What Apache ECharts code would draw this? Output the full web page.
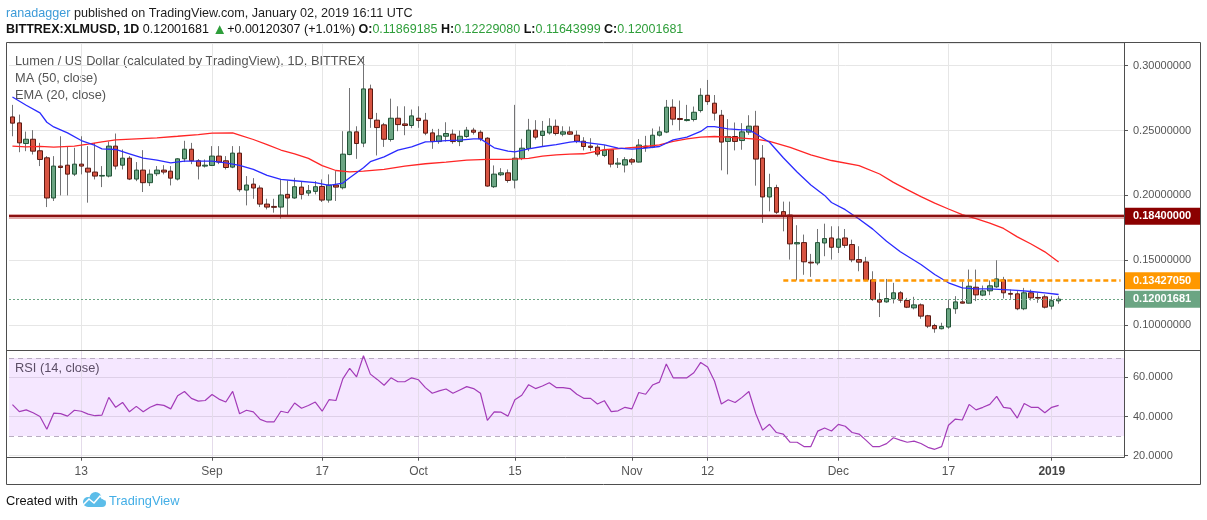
<!DOCTYPE html>
<html>
<head>
<meta charset="utf-8">
<title>Lumen / US Dollar, 1D, BITTREX</title>
<script src="https://cdn.jsdelivr.net/npm/echarts@6/dist/echarts.min.js"></script>
<style>
  html, body { margin: 0; padding: 0; background: #fff; }
  #chart-container { width: 1207px; height: 520px; }
</style>
</head>
<body>
<div id="chart-container"></div>
<script>
var TEXT_FONT = '"Liberation Sans", Arial, sans-serif';
var AXIS_FONT = '"Liberation Sans", Arial, sans-serif';

// daily candles BITTREX:XLMUSD, 2018-08-03 .. 2019-01-02
var opens = [
  0.2605, 0.2559, 0.2400, 0.2433, 0.2344, 0.2290, 0.1980, 0.2226, 0.2233, 0.2164,
  0.2241, 0.2210, 0.2180, 0.2149, 0.2149, 0.2380, 0.2233, 0.2287, 0.2126, 0.2195,
  0.2098, 0.2167, 0.2195, 0.2187, 0.2126, 0.2282, 0.2356, 0.2267, 0.2226, 0.2231,
  0.2303, 0.2267, 0.2218, 0.2326, 0.2041, 0.2087, 0.2057, 0.1933, 0.1915, 0.1910,
  0.2008, 0.1980, 0.2064, 0.2018, 0.2031, 0.2069, 0.1964, 0.2080, 0.2059, 0.2315,
  0.2490, 0.2403, 0.2821, 0.2580, 0.2544, 0.2431, 0.2595, 0.2551, 0.2539, 0.2595,
  0.2580, 0.2482, 0.2415, 0.2456, 0.2472, 0.2415, 0.2454, 0.2503, 0.2487, 0.2441,
  0.2067, 0.2159, 0.2174, 0.2118, 0.2285, 0.2362, 0.2503, 0.2462, 0.2482, 0.2533,
  0.2472, 0.2490, 0.2464, 0.2418, 0.2380, 0.2372, 0.2308, 0.2352, 0.2241, 0.2234,
  0.2275, 0.2257, 0.2380, 0.2372, 0.2464, 0.2488, 0.2680, 0.2593, 0.2577, 0.2585,
  0.2654, 0.2772, 0.2711, 0.2618, 0.2416, 0.2454, 0.2423, 0.2488, 0.2534, 0.2288,
  0.1988, 0.2060, 0.1875, 0.1849, 0.1626, 0.1636, 0.1485, 0.1479, 0.1633, 0.1672,
  0.1600, 0.1672, 0.1621, 0.1505, 0.1487, 0.1349, 0.1197, 0.1179, 0.1203, 0.1249,
  0.1190, 0.1133, 0.1156, 0.1072, 0.0997, 0.0972, 0.0985, 0.1126, 0.1179, 0.1169,
  0.1292, 0.1231, 0.1264, 0.1295, 0.1349, 0.1244, 0.1241, 0.1126, 0.1249, 0.1213,
  0.1218, 0.1146, 0.11869185
];
var highs = [
  0.2698, 0.2623, 0.2492, 0.2503, 0.2405, 0.2303, 0.2303, 0.2456, 0.2380, 0.2367,
  0.2456, 0.2380, 0.2405, 0.2226, 0.2415, 0.2477, 0.2354, 0.2303, 0.2257, 0.2349,
  0.2200, 0.2226, 0.2233, 0.2226, 0.2287, 0.2421, 0.2405, 0.2280, 0.2277, 0.2380,
  0.2380, 0.2303, 0.2380, 0.2380, 0.2149, 0.2133, 0.2077, 0.1974, 0.1974, 0.2123,
  0.2115, 0.2136, 0.2110, 0.2080, 0.2110, 0.2123, 0.2162, 0.2187, 0.2495, 0.2828,
  0.2533, 0.3072, 0.2854, 0.2636, 0.2559, 0.2746, 0.2687, 0.2687, 0.2662, 0.2687,
  0.2636, 0.2513, 0.2513, 0.2564, 0.2508, 0.2500, 0.2528, 0.2521, 0.2503, 0.2449,
  0.2231, 0.2210, 0.2200, 0.2698, 0.2436, 0.2590, 0.2580, 0.2574, 0.2595, 0.2585,
  0.2533, 0.2531, 0.2500, 0.2449, 0.2441, 0.2390, 0.2388, 0.2357, 0.2288, 0.2295,
  0.2288, 0.2434, 0.2459, 0.2516, 0.2531, 0.2736, 0.2741, 0.2731, 0.2698, 0.2685,
  0.2826, 0.2890, 0.2774, 0.2659, 0.2588, 0.2562, 0.2557, 0.2618, 0.2652, 0.2388,
  0.2167, 0.2082, 0.1952, 0.1952, 0.1770, 0.1698, 0.1549, 0.1741, 0.1782, 0.1762,
  0.1762, 0.1741, 0.1659, 0.1608, 0.1526, 0.1415, 0.1249, 0.1356, 0.1326, 0.1262,
  0.1210, 0.1218, 0.1167, 0.1079, 0.1010, 0.1018, 0.1197, 0.1223, 0.1338, 0.1428,
  0.1428, 0.1305, 0.1344, 0.1500, 0.1372, 0.1274, 0.1262, 0.1287, 0.1274, 0.1249,
  0.1236, 0.1223, 0.12229080
];
var lows = [
  0.2456, 0.2333, 0.2341, 0.2315, 0.2226, 0.1910, 0.1957, 0.2000, 0.2000, 0.2149,
  0.2162, 0.1944, 0.2123, 0.2064, 0.2139, 0.2200, 0.2200, 0.2118, 0.2110, 0.2026,
  0.2072, 0.2149, 0.2162, 0.2077, 0.2115, 0.2257, 0.2241, 0.2123, 0.2215, 0.2226,
  0.2241, 0.2200, 0.2210, 0.2028, 0.1923, 0.1974, 0.1910, 0.1892, 0.1867, 0.1821,
  0.1841, 0.1974, 0.1969, 0.1995, 0.2008, 0.1949, 0.1944, 0.1957, 0.2046, 0.2310,
  0.2282, 0.2372, 0.2521, 0.2308, 0.2374, 0.2415, 0.2495, 0.2464, 0.2518, 0.2521,
  0.2464, 0.2359, 0.2398, 0.2415, 0.2398, 0.2380, 0.2444, 0.2469, 0.2418, 0.2067,
  0.2057, 0.2149, 0.2098, 0.2054, 0.2272, 0.2341, 0.2431, 0.2380, 0.2469, 0.2462,
  0.2456, 0.2467, 0.2403, 0.2347, 0.2344, 0.2300, 0.2295, 0.2216, 0.2211, 0.2177,
  0.2236, 0.2254, 0.2336, 0.2364, 0.2454, 0.2480, 0.2541, 0.2500, 0.2570, 0.2570,
  0.2639, 0.2698, 0.2577, 0.2193, 0.2162, 0.2347, 0.2352, 0.2467, 0.2075, 0.1788,
  0.1877, 0.1857, 0.1723, 0.1505, 0.1345, 0.1388, 0.1372, 0.1462, 0.1531, 0.1505,
  0.1556, 0.1595, 0.1485, 0.1415, 0.1338, 0.1187, 0.1062, 0.1172, 0.1167, 0.1172,
  0.1131, 0.1121, 0.1049, 0.0977, 0.0941, 0.0967, 0.0972, 0.1087, 0.1167, 0.1167,
  0.1185, 0.1223, 0.1231, 0.1287, 0.1205, 0.1203, 0.1115, 0.1115, 0.1190, 0.1172,
  0.1128, 0.1121, 0.11643999
];
var closes = [
  0.2557, 0.2405, 0.2433, 0.2341, 0.2277, 0.1980, 0.2226, 0.2215, 0.2164, 0.2241,
  0.2226, 0.2180, 0.2149, 0.2154, 0.2380, 0.2226, 0.2287, 0.2126, 0.2195, 0.2098,
  0.2164, 0.2195, 0.2180, 0.2133, 0.2282, 0.2356, 0.2267, 0.2226, 0.2233, 0.2303,
  0.2257, 0.2215, 0.2326, 0.2044, 0.2080, 0.2057, 0.1933, 0.1910, 0.1908, 0.2003,
  0.1980, 0.2067, 0.2008, 0.2036, 0.2067, 0.1964, 0.2080, 0.2064, 0.2318, 0.2490,
  0.2400, 0.2821, 0.2592, 0.2523, 0.2433, 0.2595, 0.2546, 0.2539, 0.2613, 0.2577,
  0.2480, 0.2415, 0.2459, 0.2477, 0.2415, 0.2456, 0.2503, 0.2487, 0.2436, 0.2072,
  0.2164, 0.2174, 0.2115, 0.2287, 0.2364, 0.2503, 0.2449, 0.2495, 0.2533, 0.2477,
  0.2490, 0.2472, 0.2418, 0.2377, 0.2370, 0.2318, 0.2349, 0.2241, 0.2249, 0.2275,
  0.2257, 0.2388, 0.2370, 0.2464, 0.2490, 0.2680, 0.2588, 0.2585, 0.2585, 0.2641,
  0.2772, 0.2723, 0.2634, 0.2411, 0.2454, 0.2416, 0.2490, 0.2534, 0.2280, 0.1988,
  0.2060, 0.1870, 0.1839, 0.1626, 0.1636, 0.1488, 0.1479, 0.1636, 0.1667, 0.1600,
  0.1664, 0.1615, 0.1503, 0.1485, 0.1349, 0.1197, 0.1177, 0.1205, 0.1249, 0.1192,
  0.1138, 0.1156, 0.1069, 0.0992, 0.0972, 0.0990, 0.1126, 0.1179, 0.1169, 0.1300,
  0.1233, 0.1264, 0.1303, 0.1356, 0.1249, 0.1238, 0.1126, 0.1249, 0.1210, 0.1208,
  0.1138, 0.11881374, 0.12001681
];

// RSI (14, close), one value per candle
var rsi14 = [
  46.1, 42.5, 43.4, 41.9, 40.0, 33.5, 41.7, 41.5, 40.2, 43.2,
  42.7, 41.2, 40.4, 40.7, 49.8, 44.7, 47.2, 42.4, 45.2, 42.4,
  44.7, 46.2, 45.7, 43.9, 50.6, 52.8, 49.3, 47.9, 48.2, 51.3,
  48.9, 47.4, 52.9, 41.4, 43.2, 42.4, 38.5, 37.2, 37.2, 42.7,
  41.9, 46.9, 44.2, 45.6, 47.4, 42.7, 48.6, 48.2, 59.3, 64.7,
  60.3, 71.1, 61.7, 59.0, 56.0, 59.8, 57.8, 57.8, 59.8, 58.8,
  54.8, 51.9, 53.1, 54.1, 51.9, 53.6, 55.3, 54.3, 51.9, 38.0,
  42.4, 42.2, 40.2, 48.6, 50.9, 56.3, 54.3, 55.6, 57.3, 54.8,
  54.8, 54.3, 51.4, 49.3, 49.3, 46.4, 48.1, 42.5, 42.9, 44.7,
  43.9, 52.3, 51.4, 56.1, 57.6, 66.9, 59.8, 59.8, 59.8, 62.4,
  67.7, 65.4, 58.2, 46.4, 48.6, 47.2, 49.8, 52.8, 41.4, 33.0,
  36.0, 31.8, 31.0, 26.8, 26.8, 24.6, 24.6, 32.5, 34.1, 32.6,
  36.0, 35.0, 31.8, 31.0, 27.9, 24.6, 24.6, 26.1, 29.1, 27.9,
  26.8, 27.4, 26.2, 24.2, 23.2, 24.6, 35.5, 38.7, 38.2, 46.2,
  43.4, 44.7, 46.2, 50.3, 44.7, 44.2, 39.2, 46.7, 44.7, 44.7,
  41.9, 44.7, 45.7
];

// moving averages: [day index from 2018-08-03, value]
var ma50 = [
  [0, 0.2380], [2, 0.2374], [4, 0.2378], [6, 0.2372], [9, 0.2380], [11, 0.2395],
  [13, 0.2413], [15, 0.2428], [18, 0.2436], [21, 0.2444], [24, 0.2456], [27, 0.2469],
  [29, 0.2480], [32, 0.2482], [33, 0.2465], [35, 0.2431], [37, 0.2392], [39, 0.2350],
  [41, 0.2320], [43, 0.2285], [45, 0.2230], [47, 0.2192], [49, 0.2182], [51, 0.2187],
  [54, 0.2200], [57, 0.2226], [60, 0.2244], [63, 0.2257], [66, 0.2272], [69, 0.2277],
  [72, 0.2277], [75, 0.2285], [77, 0.2303], [79, 0.2313], [81, 0.2318], [83, 0.2321],
  [86, 0.2352], [89, 0.2364], [92, 0.2377], [94, 0.2390], [96, 0.2416], [98, 0.2436],
  [100, 0.2449], [102, 0.2454], [104, 0.2449], [106, 0.2441], [108, 0.2434], [110, 0.2416],
  [113, 0.2370], [116, 0.2313], [119, 0.2269], [123, 0.2230], [126, 0.2165], [128, 0.2100],
  [130, 0.2045], [132, 0.1990], [134, 0.1940], [136, 0.1895], [138, 0.1852], [140, 0.1820],
  [142, 0.1787], [144, 0.1745], [146, 0.1680], [148, 0.1625], [150, 0.1565], [152, 0.1487]
];
var ema20 = [
  [0, 0.2759], [2, 0.2695], [4, 0.2636], [5, 0.2564], [6, 0.2528], [8, 0.2482],
  [10, 0.2423], [12, 0.2385], [13, 0.2359], [15, 0.2354], [17, 0.2321], [19, 0.2287],
  [21, 0.2272], [23, 0.2251], [25, 0.2264], [27, 0.2264], [29, 0.2264], [31, 0.2251],
  [33, 0.2231], [35, 0.2200], [37, 0.2154], [39, 0.2123], [41, 0.2113], [44, 0.2098],
  [46, 0.2077], [48, 0.2095], [49, 0.2136], [51, 0.2213], [52, 0.2260], [54, 0.2297],
  [56, 0.2349], [58, 0.2374], [60, 0.2413], [61, 0.2415], [63, 0.2423], [65, 0.2426],
  [67, 0.2436], [68, 0.2436], [70, 0.2367], [72, 0.2341], [73, 0.2336], [75, 0.2359],
  [77, 0.2377], [79, 0.2392], [81, 0.2410], [82, 0.2416], [84, 0.2403], [86, 0.2390],
  [88, 0.2364], [90, 0.2357], [92, 0.2364], [94, 0.2377], [96, 0.2428], [98, 0.2449],
  [100, 0.2493], [101, 0.2531], [102, 0.2531], [104, 0.2513], [106, 0.2505], [107, 0.2505],
  [108, 0.2475], [110, 0.2410], [112, 0.2290], [114, 0.2180], [116, 0.2080], [118, 0.2000],
  [119, 0.1945], [121, 0.1890], [123, 0.1818], [125, 0.1740], [127, 0.1646], [129, 0.1565],
  [132, 0.1467], [134, 0.1390], [136, 0.1326], [138, 0.1287], [140, 0.1280], [142, 0.1280],
  [144, 0.1274], [146, 0.1267], [148, 0.1259], [150, 0.1249], [152, 0.1236]
];

var tickDays = ['2018-08-13', '2018-09-01', '2018-09-17', '2018-10-01', '2018-10-15',
                '2018-11-01', '2018-11-12', '2018-12-01', '2018-12-17', '2019-01-01'];
var tickLabels = ['13', 'Sep', '17', 'Oct', '15', 'Nov', '12', 'Dec', '17', '2019'];

var supportLevel = 0.184;
var resistanceLevel = 0.1342705;
var resistanceFrom = '2018-11-23';

// axis runs a few empty days past the last candle
var days = [];
var t0 = Date.UTC(2018, 7, 3);
for (var i = 0; i < 162; i++) {
  days.push(new Date(t0 + i * 86400000).toISOString().slice(0, 10));
}

var last = closes.length - 1;
var lastClose = closes[last];
var change = closes[last] - closes[last - 1];
var changePct = change / closes[last - 1] * 100;

var wickData = opens.map(function (o, i) { return [o, closes[i], lows[i], highs[i]]; });
var bodyData = opens.map(function (o, i) {
  var c = closes[i];
  return [o, c, Math.min(o, c), Math.max(o, c)];
});
var maData = ma50.map(function (p) { return [days[p[0]], p[1]]; });
var emaData = ema20.map(function (p) { return [days[p[0]], p[1]]; });

function isTick(idx, value) { return tickDays.indexOf(value) !== -1; }

function priceTag(bg) {
  return {
    show: true,
    position: 'end',
    distance: 0,
    formatter: function (p) { return Number(p.value).toFixed(8); },
    color: '#fff',
    backgroundColor: bg,
    fontFamily: AXIS_FONT,
    fontSize: 11,
    fontWeight: 'bold',
    padding: [3, 9, 2, 9],
    height: 12,
    lineHeight: 12
  };
}

var dom = document.getElementById('chart-container');
var myChart = echarts.init(dom, null, { renderer: 'canvas' });

var option = {
  animation: false,
  backgroundColor: '#fff',
  grid: [
    { left: 9, right: 83, top: 43, height: 307 },
    { left: 9, right: 83, top: 350.5, height: 107.2 }
  ],
  xAxis: [
    { type: 'category', gridIndex: 0, data: days, show: false },
    {
      type: 'category', gridIndex: 1, data: days,
      axisLine: { show: false },
      axisTick: { show: true, alignWithLabel: true, interval: isTick, length: 3, lineStyle: { color: '#555' } },
      axisLabel: {
        interval: isTick,
        margin: 8,
        color: '#555',
        fontSize: 12,
        fontFamily: AXIS_FONT,
        formatter: function (value) {
          var s = tickLabels[tickDays.indexOf(value)];
          return s === '2019' ? '{b|' + s + '}' : s;
        },
        rich: { b: { fontWeight: 'bold', color: '#444', fontSize: 12, fontFamily: AXIS_FONT } }
      },
      splitLine: { show: false }
    }
  ],
  yAxis: [
    {
      type: 'value', gridIndex: 0, position: 'right',
      min: 0.0808, max: 0.3175, splitNumber: 5,
      axisLine: { show: false },
      axisTick: { show: true, length: 4, lineStyle: { color: '#555' } },
      axisLabel: {
        margin: 9, color: '#555', fontSize: 11, fontFamily: AXIS_FONT,
        showMinLabel: false, showMaxLabel: false,
        formatter: function (v) { return v.toFixed(8); }
      },
      splitLine: { lineStyle: { color: '#e6e6e6' } }
    },
    {
      type: 'value', gridIndex: 1, position: 'right',
      min: 18.9, max: 73.8, splitNumber: 3,
      axisLine: { show: false },
      axisTick: { show: true, length: 4, lineStyle: { color: '#555' } },
      axisLabel: {
        margin: 9, color: '#555', fontSize: 11, fontFamily: AXIS_FONT,
        showMinLabel: false, showMaxLabel: false,
        formatter: function (v) { return v.toFixed(4); }
      },
      splitLine: { lineStyle: { color: '#e6e6e6' } }
    }
  ],
  series: [
    {
      name: 'wicks', type: 'candlestick', xAxisIndex: 0, yAxisIndex: 0,
      data: wickData, barWidth: 1, z: 2, silent: true,
      itemStyle: { color: '#737375', color0: '#737375', borderColor: '#737375', borderColor0: '#737375', borderWidth: 1 },
      markLine: {
        silent: true, symbol: 'none', z: 1, animation: false,
        label: { show: false },
        lineStyle: { color: '#e6e6e6', width: 1, type: 'solid' },
        data: tickDays.map(function (d) { return { xAxis: d }; })
      }
    },
    {
      name: 'XLMUSD', type: 'candlestick', xAxisIndex: 0, yAxisIndex: 0,
      data: bodyData, barWidth: 5, z: 3, silent: true,
      itemStyle: { color: '#6ba583', color0: '#d75442', borderColor: '#225437', borderColor0: '#5b1a13', borderWidth: 1 },
      markLine: {
        silent: true, symbol: 'none', z: 6, animation: false, precision: 8,
        data: [
          { yAxis: supportLevel, lineStyle: { color: 'rgba(178,40,40,0.4)', width: 5, type: 'solid' }, label: { show: false } },
          { yAxis: supportLevel, lineStyle: { color: '#8b1111', width: 2, type: 'solid' }, label: priceTag('#8b0000') },
          [
            { coord: [resistanceFrom, resistanceLevel], lineStyle: { color: '#ff9800', width: 2.5, type: [5, 3] }, label: { show: false } },
            { coord: [days[days.length - 1], resistanceLevel] }
          ],
          { yAxis: resistanceLevel, lineStyle: { color: 'rgba(0,0,0,0)', width: 1 }, label: priceTag('#ff9800') },
          { yAxis: lastClose, lineStyle: { color: '#6ba583', width: 1, type: [2, 2] }, label: priceTag('#6ba583') }
        ]
      }
    },
    {
      name: 'MA (50, close)', type: 'line', xAxisIndex: 0, yAxisIndex: 0,
      data: maData, symbol: 'none', z: 4, silent: true,
      lineStyle: { color: '#ff2626', width: 1.3 }
    },
    {
      name: 'EMA (20, close)', type: 'line', xAxisIndex: 0, yAxisIndex: 0,
      data: emaData, symbol: 'none', z: 4, silent: true,
      lineStyle: { color: '#2b2bff', width: 1.3 }
    },
    {
      name: 'RSI (14, close)', type: 'line', xAxisIndex: 1, yAxisIndex: 1,
      data: rsi14, symbol: 'none', z: 4, silent: true,
      lineStyle: { color: '#a33bb8', width: 1.2 },
      markArea: {
        silent: true, z: 1,
        itemStyle: { color: 'rgba(153,21,255,0.1)' },
        data: [[{ yAxis: 30 }, { yAxis: 70 }]]
      },
      markLine: {
        silent: true, symbol: 'none', z: 2, animation: false,
        label: { show: false },
        data: tickDays.map(function (d) {
          return { xAxis: d, lineStyle: { color: '#e4dbea', width: 1, type: 'solid' } };
        }).concat([
          { yAxis: 70, lineStyle: { color: '#b9adc2', width: 1, type: [5, 4] } },
          { yAxis: 30, lineStyle: { color: '#b9adc2', width: 1, type: [5, 4] } }
        ])
      }
    }
  ],
  graphic: [
    // frame
    { type: 'rect', silent: true, z: 10, shape: { x: 6.5, y: 42.5, width: 1194, height: 442 },
      style: { fill: null, stroke: '#4e4e4e', lineWidth: 1 } },
    { type: 'line', silent: true, z: 10, shape: { x1: 6.5, y1: 350.5, x2: 1200.5, y2: 350.5 },
      style: { stroke: '#4e4e4e', lineWidth: 1 } },
    { type: 'line', silent: true, z: 10, shape: { x1: 6.5, y1: 457.5, x2: 1124.5, y2: 457.5 },
      style: { stroke: '#4e4e4e', lineWidth: 1 } },
    { type: 'line', silent: true, z: 10, shape: { x1: 1124.5, y1: 42.5, x2: 1124.5, y2: 457.5 },
      style: { stroke: '#4e4e4e', lineWidth: 1 } },
    // header
    { type: 'text', silent: true, x: 6, y: 14, style: {
        text: '{a|ranadagger}{b| published on TradingView.com, January 02, 2019 16:11 UTC}',
        verticalAlign: 'middle', font: '12.6px ' + TEXT_FONT,
        rich: { a: { fill: '#3d9bd8', fontSize: 12.6, fontFamily: TEXT_FONT }, b: { fill: '#1e1e1e', fontSize: 12.6, fontFamily: TEXT_FONT } }
      } },
    { type: 'text', silent: true, x: 6, y: 30, style: {
        text: '{k|BITTREX:XLMUSD, 1D}{n| ' + lastClose.toFixed(8) + ' }{g|\u25B2}{n|+' + change.toFixed(8) +
              ' (+' + changePct.toFixed(2) + '%) }{k|O:}{v|' + opens[last].toFixed(8) + '}{k| H:}{v|' +
              highs[last].toFixed(8) + '}{k| L:}{v|' + lows[last].toFixed(8) + '}{k| C:}{v|' + closes[last].toFixed(8) + '}',
        verticalAlign: 'middle', font: '12.5px ' + TEXT_FONT,
        rich: {
          k: { fill: '#111', fontWeight: 'bold', fontSize: 12.5, fontFamily: TEXT_FONT },
          n: { fill: '#111', fontSize: 12.5, fontFamily: TEXT_FONT },
          g: { fill: '#2e9e3a', fontSize: 15, fontFamily: AXIS_FONT },
          v: { fill: '#2e9e3a', fontSize: 12.5, fontFamily: TEXT_FONT }
        }
      } },
    // legends
    { type: 'text', silent: true, x: 15, y: 61, style: {
        text: 'Lumen / US Dollar (calculated by TradingView), 1D, BITTREX',
        fill: '#555', verticalAlign: 'middle', font: '12.8px ' + TEXT_FONT } },
    { type: 'text', silent: true, x: 15, y: 78, style: {
        text: 'MA (50, close)', fill: '#555', verticalAlign: 'middle', font: '12.8px ' + TEXT_FONT } },
    { type: 'text', silent: true, x: 15, y: 95, style: {
        text: 'EMA (20, close)', fill: '#555', verticalAlign: 'middle', font: '12.8px ' + TEXT_FONT } },
    { type: 'text', silent: true, x: 15, y: 368, style: {
        text: 'RSI (14, close)', fill: '#555', verticalAlign: 'middle', font: '12.8px ' + TEXT_FONT } },
    // footer
    { type: 'text', silent: true, x: 6, y: 501, style: {
        text: 'Created with', fill: '#111', verticalAlign: 'middle', font: '12.8px ' + TEXT_FONT } },
    { type: 'group', silent: true, x: 0, y: 0, children: [
        { type: 'circle', shape: { cx: 88, cy: 502, r: 5 }, style: { fill: '#5cbde9' } },
        { type: 'circle', shape: { cx: 95.5, cy: 498, r: 6 }, style: { fill: '#5cbde9' } },
        { type: 'circle', shape: { cx: 102, cy: 503, r: 4 }, style: { fill: '#5cbde9' } },
        { type: 'rect', shape: { x: 88, y: 502, width: 14, height: 5 }, style: { fill: '#5cbde9' } },
        { type: 'polyline', shape: { points: [[83, 505], [89, 499], [94, 503], [100, 496], [105, 500]] },
          style: { stroke: '#fff', lineWidth: 1.6, fill: null } }
      ] },
    { type: 'text', silent: true, x: 109, y: 501, style: {
        text: 'TradingView', fill: '#43aee6', verticalAlign: 'middle', font: '12.8px ' + TEXT_FONT } }
  ]
};

if (option && typeof option === 'object') {
  myChart.setOption(option);
}

window.addEventListener('resize', myChart.resize);
</script>
</body>
</html>
